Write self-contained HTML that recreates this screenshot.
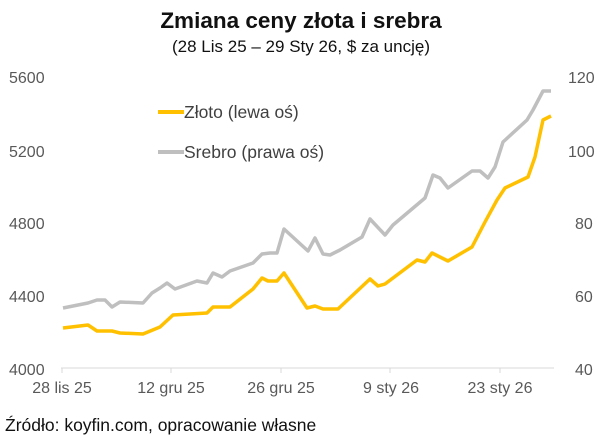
<!DOCTYPE html>
<html><head><meta charset="utf-8"><style>
html,body{margin:0;padding:0;background:#fff;}
body{width:602px;height:442px;overflow:hidden;font-family:"Liberation Sans",sans-serif;}
</style></head><body>
<svg width="602" height="442" xmlns="http://www.w3.org/2000/svg" font-family="Liberation Sans, sans-serif">
<text x="301" y="28" text-anchor="middle" font-size="22.5" font-weight="bold" fill="#111">Zmiana ceny złota i srebra</text>
<text x="301" y="52" text-anchor="middle" font-size="17" fill="#111">(28 Lis 25 – 29 Sty 26, $ za uncję)</text>
<g font-size="16" fill="#595959">
<text x="9" y="83">5600</text><text x="9" y="157">5200</text><text x="9" y="229">4800</text><text x="9" y="302">4400</text><text x="9" y="375">4000</text>
<text x="568" y="83">120</text><text x="568" y="157">100</text><text x="575" y="229">80</text><text x="575" y="302">60</text><text x="575" y="375">40</text>
<text x="62" y="393" text-anchor="middle">28 lis 25</text>
<text x="171" y="393" text-anchor="middle">12 gru 25</text>
<text x="281" y="393" text-anchor="middle">26 gru 25</text>
<text x="391" y="393" text-anchor="middle">9 sty 26</text>
<text x="500" y="393" text-anchor="middle">23 sty 26</text>
</g>
<line x1="61" y1="368" x2="554" y2="368" stroke="#d9d9d9" stroke-width="1"/>
<g stroke="#d9d9d9"><line x1="62" y1="368" x2="62" y2="373"/><line x1="171" y1="368" x2="171" y2="373"/><line x1="281" y1="368" x2="281" y2="373"/><line x1="390" y1="368" x2="390" y2="373"/><line x1="500" y1="368" x2="500" y2="373"/></g>
<polyline fill="none" stroke="#bfbfbf" stroke-width="3.5" stroke-linejoin="round" points="63,308 88,303 97,300 105,300 112,307 120,302 143,303 152,293 160,288 167,283 175,289 197,281 207,283 213,273 222,277 230,271 253,263 262,254 270,253 277,253 284,229 308,251 315,238 323,254 330,255 340,250 362,237 370,219 385,235 393,225 425,198 433,175 440,178 448,188 472,171 480,171 488,178 495,167 503,142 527,120 533,110 543,91 551,91"/>
<polyline fill="none" stroke="#ffc000" stroke-width="3.5" stroke-linejoin="round" points="63,328 88,325 97,331 112,331 120,333 143,334 160,327 173,315 207,313 213,307 230,307 253,289 262,278 268,281 277,281 284,273 307,308 315,306 323,309 338,309 370,279 378,286 385,284 417,260 425,262 432,253 448,261 472,247 485,222 497,200 505,188 528,177 535,157 543,120 551,116"/>
<line x1="158" y1="112" x2="184" y2="112" stroke="#ffc000" stroke-width="4"/>
<line x1="158" y1="152" x2="184" y2="152" stroke="#bfbfbf" stroke-width="4"/>
<text x="184" y="118" font-size="17.5" fill="#404040">Złoto (lewa oś)</text>
<text x="184" y="158" font-size="17.5" fill="#404040">Srebro (prawa oś)</text>
<text x="5" y="431" font-size="17.5" fill="#111">Źródło: koyfin.com, opracowanie własne</text>
</svg>
</body></html>
